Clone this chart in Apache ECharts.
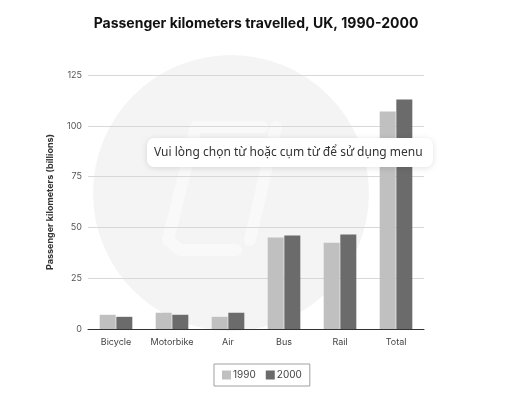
<!DOCTYPE html>
<html>
<head>
<meta charset="utf-8">
<script src="https://cdn.jsdelivr.net/npm/echarts@6/dist/echarts.min.js"></script>
<style>
  html, body { margin: 0; padding: 0; background: #fff; }
  #chart { width: 512px; height: 414px; }
</style>
</head>
<body>
<div id="chart"></div>
<script>
// categories and values (billions of passenger km)
const categories = ['Bicycle', 'Motorbike', 'Air', 'Bus', 'Rail', 'Total'];
const values1990 = [7, 8, 6, 45, 42.5, 107];
const values2000 = [6, 7, 8, 46, 46.5, 113];

const chart = echarts.init(document.getElementById('chart'));

chart.setOption({
  animation: false,
  title: {
    text: 'Passenger kilometers travelled, UK, 1990-2000',
    left: 'center',
    top: 12,
    textStyle: { fontFamily: 'Inter', fontSize: 14, fontWeight: 'bold', color: '#111' }
  },
  legend: {
    data: ['1990', '2000'],
    left: 214,
    top: 364,
    borderColor: '#a0a0a0',
    borderWidth: 1,
    padding: [6, 8, 6, 8],
    itemWidth: 9,
    itemHeight: 9,
    itemGap: 10,
    icon: 'rect',
    textStyle: { fontFamily: 'Inter', fontSize: 10, color: '#444', padding: [0, 0, 0, -3] }
  },
  grid: { left: 88, right: 88, top: 75, bottom: 85 },
  xAxis: {
    type: 'category',
    data: categories,
    axisLine: { lineStyle: { color: '#333', width: 1 } },
    axisTick: { show: false },
    axisLabel: { fontFamily: 'Inter', fontSize: 9, color: '#444', margin: 9 }
  },
  yAxis: {
    type: 'value',
    min: 0,
    max: 125,
    interval: 25,
    name: 'Passenger kilometers (billions)',
    nameLocation: 'middle',
    nameGap: 33,
    nameTextStyle: { fontFamily: 'Inter', fontSize: 9, fontWeight: 'bold', color: '#333' },
    axisLine: { show: false },
    axisTick: { show: false },
    axisLabel: { fontFamily: 'Inter', fontSize: 9, color: '#555', margin: 6 },
    splitLine: { lineStyle: { color: '#d8d8d8' } }
  },
  series: [
    {
      name: '1990',
      type: 'bar',
      data: values1990,
      barWidth: 16,
      barGap: '4%',
      itemStyle: { color: '#c0c0c0' }
    },
    {
      name: '2000',
      type: 'bar',
      data: values2000,
      barWidth: 16,
      itemStyle: { color: '#6b6b6b' }
    }
  ],
  graphic: [
    // faint watermark behind the plot
    {
      type: 'circle',
      z: -10,
      shape: { cx: 231, cy: 193, r: 138 },
      style: { fill: '#f4f4f4' }
    },
    {
      type: 'polyline',
      z: -9,
      shape: { points: [[276, 127], [250, 240]] },
      style: { stroke: '#f9f9f9', lineWidth: 12, lineCap: 'round' }
    },
    {
      type: 'polyline',
      z: -9,
      shape: { points: [[262, 127], [196, 127], [168, 240], [180, 250], [236, 250]] },
      style: { stroke: '#f9f9f9', lineWidth: 12, lineCap: 'round', lineJoin: 'round', fill: null }
    },
    // popup overlay
    {
      type: 'rect',
      z: 100,
      shape: { x: 147, y: 138, width: 286, height: 29, r: 7 },
      style: { fill: '#fff', shadowBlur: 6, shadowColor: 'rgba(0,0,0,0.12)', shadowOffsetY: 1 }
    },
    {
      type: 'text',
      z: 101,
      x: 154,
      y: 152.5,
      style: {
        text: 'Vui lòng chọn từ hoặc cụm từ để sử dụng menu',
        fontFamily: 'Noto Sans',
        fontSize: 12,
        fill: '#333',
        verticalAlign: 'middle'
      }
    }
  ]
});
</script>
</body>
</html>
